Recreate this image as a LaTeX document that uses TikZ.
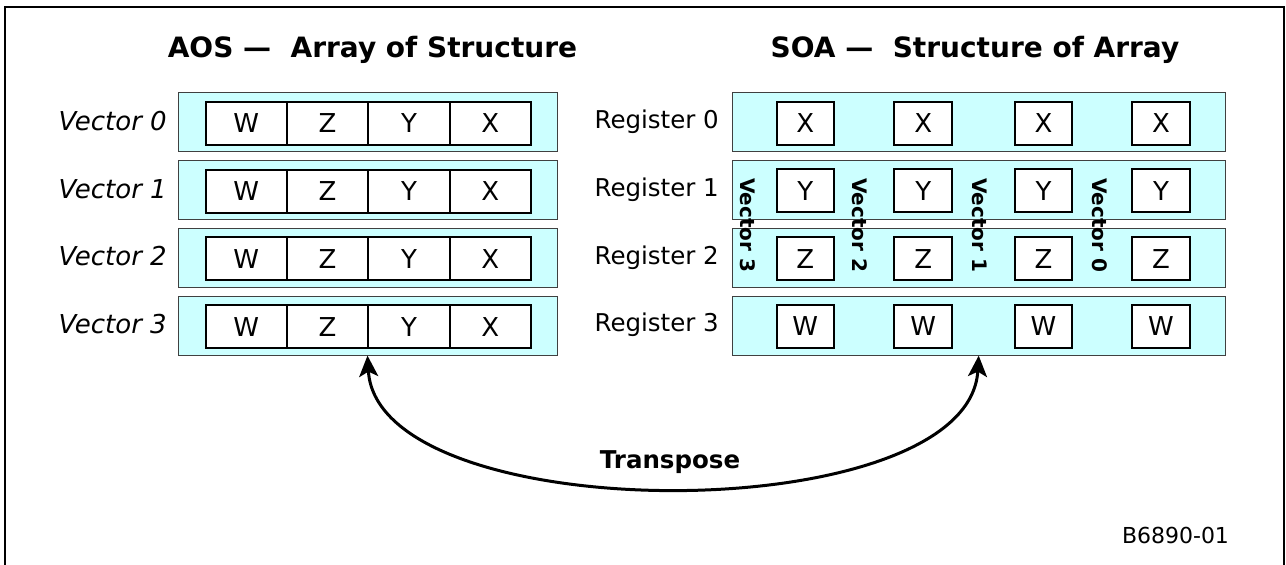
\documentclass[tikz,border=0pt]{standalone}
\usepackage{fontspec}
\setmainfont{DejaVu Sans}
\usepackage{xcolor}
\usetikzlibrary{arrows.meta}

\definecolor{regcyan}{HTML}{CCFFFF}

\tikzset{
  rowbox/.style={draw=black!75,line width=1pt,fill=regcyan,minimum height=59pt,inner sep=0pt},
  aoscell/.style={draw,line width=2pt,fill=white,minimum width=81.3pt,minimum height=43pt,inner sep=0pt,font=\fontsize{26}{26}\selectfont},
  soacell/.style={draw,line width=2pt,fill=white,minimum width=57.5pt,minimum height=43pt,inner sep=0pt,font=\fontsize{26}{26}\selectfont},
  veclabel/.style={anchor=east,inner sep=0pt,font=\fontsize{26}{26}\selectfont\itshape},
  reglabel/.style={anchor=east,inner sep=0pt,font=\fontsize{24.5}{24.5}\selectfont},
  collabel/.style={rotate=-90,inner sep=0pt,font=\fontsize{20}{20}\selectfont\bfseries},
  headline/.style={inner sep=0pt,font=\fontsize{28}{28}\selectfont\bfseries},
  bigtip/.tip={Stealth[length=21pt,width=19pt,inset=5pt]}
}

\begin{document}
\begin{tikzpicture}[x=1pt,y=-1pt]
        \useasboundingbox (0,0) rectangle (1286,565);
        \draw[line width=2pt] (5,565) -- (5,7) -- (1284,7) -- (1284,565);

        \node[headline] at (372.5,50) (aostitle) {AOS —\ \ Array of Structure};
        \node[headline] at (975,50) (soatitle) {SOA —\ \ Structure of Array};

        % AOS side
        \node[rowbox,minimum width=379pt] at (367.5,122.2) (aos0) {};
        \node[rowbox,minimum width=379pt] at (367.5,190) (aos1) {};
        \node[rowbox,minimum width=379pt] at (367.5,257.8) (aos2) {};
        \node[rowbox,minimum width=379pt] at (367.5,325.6) (aos3) {};
        \node[veclabel] at (167,121) (vec0) {Vector 0};
        \node[veclabel] at (167,189) (vec1) {Vector 1};
        \node[veclabel] at (167,256.5) (vec2) {Vector 2};
        \node[veclabel] at (167,324) (vec3) {Vector 3};
        \node[aoscell] at (246.35,123.3) (a0w) {W};
        \node[aoscell] at (327.65,123.3) (a0z) {Z};
        \node[aoscell] at (408.95,123.3) (a0y) {Y};
        \node[aoscell] at (490.25,123.3) (a0x) {X};
        \node[aoscell] at (246.35,191.1) (a1w) {W};
        \node[aoscell] at (327.65,191.1) (a1z) {Z};
        \node[aoscell] at (408.95,191.1) (a1y) {Y};
        \node[aoscell] at (490.25,191.1) (a1x) {X};
        \node[aoscell] at (246.35,258.9) (a2w) {W};
        \node[aoscell] at (327.65,258.9) (a2z) {Z};
        \node[aoscell] at (408.95,258.9) (a2y) {Y};
        \node[aoscell] at (490.25,258.9) (a2x) {X};
        \node[aoscell] at (246.35,326.7) (a3w) {W};
        \node[aoscell] at (327.65,326.7) (a3z) {Z};
        \node[aoscell] at (408.95,326.7) (a3y) {Y};
        \node[aoscell] at (490.25,326.7) (a3x) {X};

        % SOA side
        \node[rowbox,minimum width=492.7pt] at (978.7,122.2) (soa0) {};
        \node[rowbox,minimum width=492.7pt] at (978.7,190) (soa1) {};
        \node[rowbox,minimum width=492.7pt] at (978.7,257.8) (soa2) {};
        \node[rowbox,minimum width=492.7pt] at (978.7,325.6) (soa3) {};
        \node[reglabel] at (719,121.7) (reg0) {Register 0};
        \node[reglabel] at (719,189.5) (reg1) {Register 1};
        \node[reglabel] at (719,257.3) (reg2) {Register 2};
        \node[reglabel] at (719,325.1) (reg3) {Register 3};
        \node[soacell] at (805.3,123) (s0a) {X};
        \node[soacell] at (923.2,123) (s0b) {X};
        \node[soacell] at (1043.5,123) (s0c) {X};
        \node[soacell] at (1161,123) (s0d) {X};
        \node[soacell] at (805.3,190.8) (s1a) {Y};
        \node[soacell] at (923.2,190.8) (s1b) {Y};
        \node[soacell] at (1043.5,190.8) (s1c) {Y};
        \node[soacell] at (1161,190.8) (s1d) {Y};
        \node[soacell] at (805.3,258.6) (s2a) {Z};
        \node[soacell] at (923.2,258.6) (s2b) {Z};
        \node[soacell] at (1043.5,258.6) (s2c) {Z};
        \node[soacell] at (1161,258.6) (s2d) {Z};
        \node[soacell] at (805.3,326.4) (s3a) {W};
        \node[soacell] at (923.2,326.4) (s3b) {W};
        \node[soacell] at (1043.5,326.4) (s3c) {W};
        \node[soacell] at (1161,326.4) (s3d) {W};
        \node[collabel] at (748,225.5) (col3) {Vector 3};
        \node[collabel] at (860,225.5) (col2) {Vector 2};
        \node[collabel] at (980,225.5) (col1) {Vector 1};
        \node[collabel] at (1100,225.5) (col0) {Vector 0};

        % transpose arrow
        \draw[line width=3pt,{bigtip}-{bigtip}] (aos3.south) .. controls +(10,175) and +(-10,175) .. (soa3.south);
        \node[inner sep=0pt,font=\fontsize{24.5}{24.5}\selectfont\bfseries] at (670,462) (transp) {Transpose};
        \node[inner sep=0pt,font=\fontsize{22}{22}\selectfont] at (1175.5,535) (figid) {B6890-01};
    \end{tikzpicture}
\end{document}
